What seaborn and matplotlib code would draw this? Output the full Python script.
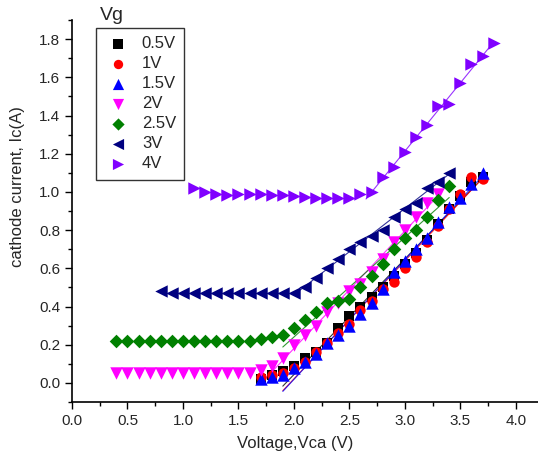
"""Cathode current vs voltage for several gate voltages."""

import matplotlib
matplotlib.use('Agg')
import matplotlib.pyplot as plt
import seaborn as sns
import numpy as np
import pandas as pd
from matplotlib.ticker import MultipleLocator

# Gate voltage labels
gate_labels = ['0.5V', '1V', '1.5V', '2V', '2.5V', '3V', '4V']

# Voltage grids (V) per series
v_05 = np.round(np.arange(1.7, 3.75, 0.1), 1)
v_1 = np.round(np.arange(1.7, 3.75, 0.1), 1)
v_15 = np.round(np.arange(1.7, 3.75, 0.1), 1)
v_2 = np.round(np.arange(0.4, 3.35, 0.1), 1)
v_25 = np.round(np.arange(0.4, 3.45, 0.1), 1)
v_3 = np.round(np.arange(0.8, 3.45, 0.1), 1)
v_4 = np.round(np.arange(1.1, 3.85, 0.1), 1)

# Cathode current (A)
i_05 = [0.02, 0.04, 0.06, 0.09, 0.13, 0.16, 0.21, 0.29, 0.35, 0.40, 0.45,
        0.50, 0.56, 0.62, 0.68, 0.75, 0.83, 0.91, 0.98, 1.05, 1.08]
i_1 = [0.03, 0.04, 0.05, 0.08, 0.11, 0.16, 0.21, 0.26, 0.31, 0.38, 0.43,
       0.49, 0.53, 0.60, 0.66, 0.74, 0.82, 0.91, 0.99, 1.08, 1.07]
i_15 = [0.02, 0.03, 0.04, 0.08, 0.11, 0.15, 0.21, 0.25, 0.30, 0.36, 0.42,
        0.49, 0.58, 0.64, 0.70, 0.76, 0.84, 0.92, 0.97, 1.04, 1.10]
i_2 = [0.05] * 13 + [0.07, 0.09, 0.13, 0.20, 0.25, 0.30, 0.37, 0.42, 0.48,
                     0.52, 0.58, 0.65, 0.74, 0.80, 0.87, 0.94, 0.99]
i_25 = [0.22] * 13 + [0.23, 0.24, 0.25, 0.29, 0.33, 0.37, 0.42, 0.43, 0.44,
                      0.50, 0.56, 0.62, 0.70, 0.76, 0.80, 0.87, 0.96, 1.03]
i_3 = [0.48] + [0.47] * 12 + [0.50, 0.55, 0.60, 0.65, 0.70, 0.74, 0.77,
                              0.80, 0.87, 0.91, 0.94, 1.02, 1.05, 1.10]
i_4 = [1.02, 1.00, 0.99, 0.985, 0.99, 0.99, 0.99, 0.985, 0.985, 0.98,
       0.975, 0.97, 0.97, 0.97, 0.97, 0.99, 1.00, 1.08, 1.13, 1.21, 1.29,
       1.35, 1.45, 1.46, 1.57, 1.67, 1.71, 1.78]

# Linear fit ranges (fit data from, draw line from)
fit_from = [2.0, 2.0, 2.0, 1.9, 2.0, 2.1, 2.7]
line_from = [1.9, 1.9, 1.9, 1.75, 1.9, 2.05, 2.65]

volts = [v_05, v_1, v_15, v_2, v_25, v_3, v_4]
currents = [i_05, i_1, i_15, i_2, i_25, i_3, i_4]
colors = ['#000000', '#ff0000', '#0000ff', '#ff00ff', '#008000', '#000080', '#8000ff']
markers = ['s', 'o', '^', 'v', 'D', '<', '>']
sizes = [52, 56, 80, 80, 48, 80, 80]

df = pd.concat([pd.DataFrame({'V': v, 'I': i, 'Vg': g})
                for v, i, g in zip(volts, currents, gate_labels)],
               ignore_index=True)

sns.set_style('ticks')
plt.rcParams['font.family'] = ['Liberation Sans', 'DejaVu Sans']

fig = plt.figure(figsize=(5.38, 4.62), dpi=100)
ax = fig.add_axes([72 / 538, 60 / 462, 466 / 538, 382 / 462])

# Fit lines first, markers on top
for k, g in enumerate(gate_labels):
    sub = df[(df['Vg'] == g) & (df['V'] >= fit_from[k] - 1e-6)]
    slope, icpt = np.polyfit(sub['V'], sub['I'], 1)
    xs = np.array([line_from[k], sub['V'].max()])
    ax.plot(xs, slope * xs + icpt, color=colors[k], lw=0.8, alpha=0.8, zorder=2)

for k, g in enumerate(gate_labels):
    sub = df[df['Vg'] == g]
    sns.scatterplot(data=sub, x='V', y='I', ax=ax, color=colors[k],
                    marker=markers[k], s=sizes[k], linewidth=0,
                    label=g, zorder=3)

ax.set_xlim(0, 4.2)
ax.set_ylim(-0.1, 1.9)
ax.xaxis.set_minor_locator(MultipleLocator(0.25))
ax.yaxis.set_minor_locator(MultipleLocator(0.1))
ax.set_xticks(np.arange(0, 4.01, 0.5))
ax.set_yticks(np.arange(0, 1.81, 0.2))
ax.xaxis.set_major_formatter(plt.FormatStrFormatter('%.1f'))
ax.yaxis.set_major_formatter(plt.FormatStrFormatter('%.1f'))
ax.tick_params(which='major', direction='out', length=5, width=1, labelsize=11, color='black')
ax.tick_params(which='minor', direction='out', length=3, width=1, color='black')
for side in ['top', 'right']:
    ax.spines[side].set_visible(False)
for side in ['left', 'bottom']:
    ax.spines[side].set_color('black')
    ax.spines[side].set_linewidth(1.2)

ax.set_xlabel('Voltage,Vca (V)', fontsize=12)
ax.set_ylabel('cathode current, Ic(A)', fontsize=12)
ax.xaxis.set_label_coords(0.479, -0.09)
ax.yaxis.set_label_coords(-0.10, 0.563)

leg = ax.legend(loc='upper left', bbox_to_anchor=(96 / 538, 1 - 28 / 462),
                bbox_transform=fig.transFigure, borderaxespad=0, fontsize=12,
                frameon=True, fancybox=False, labelspacing=0.3,
                handletextpad=0.65, borderpad=0.5, handlelength=1.6,
                markerscale=0.9)
leg.get_frame().set_edgecolor('black')
leg.get_frame().set_linewidth(1.0)
fig.text(100 / 538, 1 - 16 / 462, 'Vg', fontsize=14, va='center', ha='left')

fig.savefig('out.png', dpi=100)
plt.close(fig)
